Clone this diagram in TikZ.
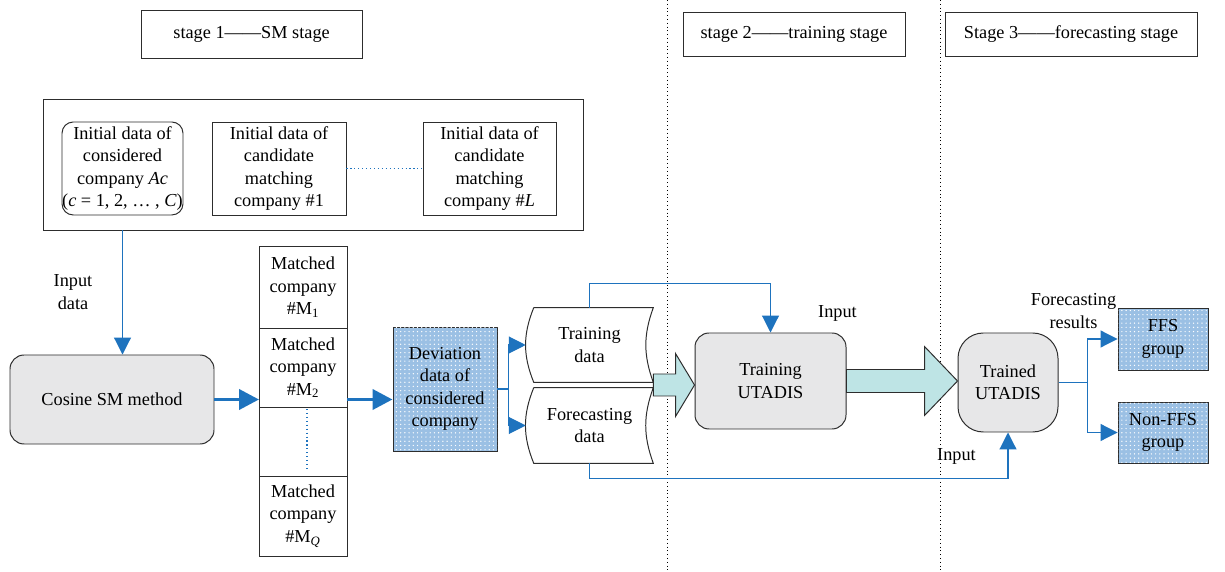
\documentclass[tikz,border=0pt]{standalone}
\usepackage{fontspec}
\setmainfont{Liberation Serif}
\usetikzlibrary{arrows.meta, positioning, calc, patterns}
\definecolor{flowblue}{RGB}{30,115,190}
\definecolor{boxgray}{RGB}{231,231,232}
\definecolor{fatcyan}{RGB}{190,228,229}
\definecolor{dotblue}{RGB}{155,192,228}
\definecolor{edgegray}{RGB}{45,45,45}
\tikzset{
  lbl/.style       = {font=\fontsize{13}{16}\selectfont, align=center},
  boxline/.style   = {draw=edgegray, line width=0.7pt, lbl, inner sep=0pt},
  sbox/.style      = {boxline, fill=boxgray, rounded corners=10pt},
  dbox/.style      = {boxline, fill=dotblue, postaction={pattern=dots, pattern color=white}},
  cell/.style      = {boxline, minimum width=2.2cm, outer sep=0pt},
  flow/.style      = {-{Triangle[width=0.42cm,length=0.42cm]}, draw=flowblue, line width=0.8pt},
  thickflow/.style = {-{Triangle[width=0.5cm,length=0.5cm]}, draw=flowblue, line width=2.8pt},
  fat/.style       = {draw=edgegray, line width=0.7pt, fill=fatcyan},
  divider/.style   = {dotted, line width=0.7pt},
}

\begin{document}
\begin{tikzpicture}
  \useasboundingbox[fill=white] (0,0) rectangle (30.625,-14.3);

  % stage headers
  \node[boxline, minimum width=5.525cm, minimum height=1.2cm] (st1) at (6.29,-0.85) {stage 1——SM stage};
  \node[boxline, minimum width=5.55cm, minimum height=1.1cm] (st2) at (19.85,-0.85) {stage 2——training stage};
  \node[boxline, minimum width=6.3cm, minimum height=1.1cm] (st3) at (26.775,-0.85) {Stage 3——forecasting stage};
  \draw[divider] (16.675,0) -- (16.675,-14.3);
  \draw[divider] (23.5,0) -- (23.5,-14.3);

  % stage 1
  \node[boxline, minimum width=13.5cm, minimum height=3.275cm] (outer) at (7.825,-4.1125) {};
  \node[boxline, rounded corners=8pt, minimum width=3.025cm, minimum height=2.325cm] (init) at (3.0625,-4.2125)
    {Initial data of\\considered\\company \textit{Ac}\\(\textit{c} = 1, 2, … , \textit{C})};
  \node[boxline, minimum width=3.35cm, minimum height=2.325cm] (cand1) at (6.975,-4.2125)
    {Initial data of\\candidate\\matching\\company \#1};
  \node[boxline, minimum width=3.325cm, minimum height=2.325cm] (candL) at (12.2375,-4.2125)
    {Initial data of\\candidate\\matching\\company \#\textit{L}};
  \draw[flowblue, dotted, line width=0.8pt] (cand1.east) -- (candL.west);

  \node[sbox, minimum width=5.1cm, minimum height=2.225cm] (cos) at (2.8,-9.9875) {Cosine SM method};
  \node[lbl] (inlbl) at (1.825,-7.3) {Input\\data};
  \draw[flow] (init.south |- outer.south) -- (init.south |- cos.north);

  \node[cell, minimum height=2.05cm] (m1) at (7.575,-7.175) {Matched\\company\\\#M\textsubscript{1}};
  \node[cell, minimum height=1.975cm, anchor=north] (m2) at (m1.south) {Matched\\company\\\#M\textsubscript{2}};
  \node[cell, minimum height=1.725cm, anchor=north] (mgap) at (m2.south) {};
  \node[cell, minimum height=2.0cm, anchor=north] (mq) at (mgap.south) {Matched\\company\\\#M\textsubscript{\textit{Q}}};
  \draw[flowblue, dotted, line width=0.8pt] ([xshift=0.1cm,yshift=-0.05cm]mgap.north) -- ([xshift=0.1cm,yshift=0.15cm]mgap.south);

  \node[dbox, minimum width=2.6cm, minimum height=3.1cm] (dev) at (11.125,-9.725)
    {Deviation\\data of\\considered\\company};
  \draw[thickflow] (cos.east) -- (cos.east -| m2.west);
  \draw[thickflow] (cos.east -| m2.east) -- (cos.east -| dev.west);

  % stored data
  \node[lbl, minimum width=3.175cm, minimum height=1.85cm] (train) at (14.7375,-8.625) {Training\\data};
  \node[lbl, minimum width=3.175cm, minimum height=1.875cm] (fore) at (14.7375,-10.6375) {Forecasting\\data};
  \foreach \d in {train, fore}
    \draw[draw=edgegray, line width=0.7pt] ([xshift=0.2cm]\d.north west) -- (\d.north east)
      to[bend right=20] (\d.south east) -- ([xshift=0.2cm]\d.south west)
      to[bend left=22] ([xshift=0.2cm]\d.north west);
  \draw[flow] (dev.east) -- ++(0.275,0) |- (train.west);
  \draw[flow] (dev.east) -- ++(0.275,0) |- (fore.west);

  % stage 2 and 3
  \node[sbox, minimum width=3.775cm, minimum height=2.4cm] (tu) at (19.2625,-9.525) {Training\\UTADIS};
  \node[sbox, rounded corners=18pt, minimum width=2.5cm, minimum height=2.475cm] (ttu) at (25.2,-9.5625) {Trained\\UTADIS};
  \draw[flow] (train.north) -- ++(0,0.6) -| (tu.north);
  \draw[flow] (fore.south) -- ++(0,-0.375) -| (ttu.south);
  \node[lbl] (in1) at (20.9375,-7.825) {Input};
  \node[lbl] (in2) at (23.9125,-11.4) {Input};

  \coordinate (gap) at ($(train.south east)!0.5!(fore.north east)$);
  \draw[fat] let \p1=(gap), \p2=(gap -| tu.west) in
    (\x1,\y1+0.275cm) -- (\x2-0.475cm,\y1+0.275cm) -- (\x2-0.475cm,\y1+0.7875cm) -- (\x2,\y1)
    -- (\x2-0.475cm,\y1-0.7875cm) -- (\x2-0.475cm,\y1-0.275cm) -- (\x1,\y1-0.275cm) -- cycle;
  \draw[fat] let \p1=(tu.east), \p2=(tu.east -| ttu.west) in
    (\x1,\y1+0.2875cm) -- (\x2-0.825cm,\y1+0.2875cm) -- (\x2-0.825cm,\y1+0.8625cm) -- (\x2,\y1)
    -- (\x2-0.825cm,\y1-0.8625cm) -- (\x2-0.825cm,\y1-0.2875cm) -- (\x1,\y1-0.2875cm) -- cycle;

  \node[dbox, minimum width=2.25cm, minimum height=1.55cm] (ffs) at (29.075,-8.475) {FFS\\group};
  \node[dbox, minimum width=2.25cm, minimum height=1.525cm] (nffs) at (29.075,-10.8125) {Non-FFS\\group};
  \node[lbl] (res) at (26.8375,-7.775) {Forecasting\\results};
  \draw[flow] (ttu.east) -- ++(0.725,0) |- (ffs.west);
  \draw[flow] (ttu.east) -- ++(0.725,0) |- (nffs.west);
\end{tikzpicture}
\end{document}
